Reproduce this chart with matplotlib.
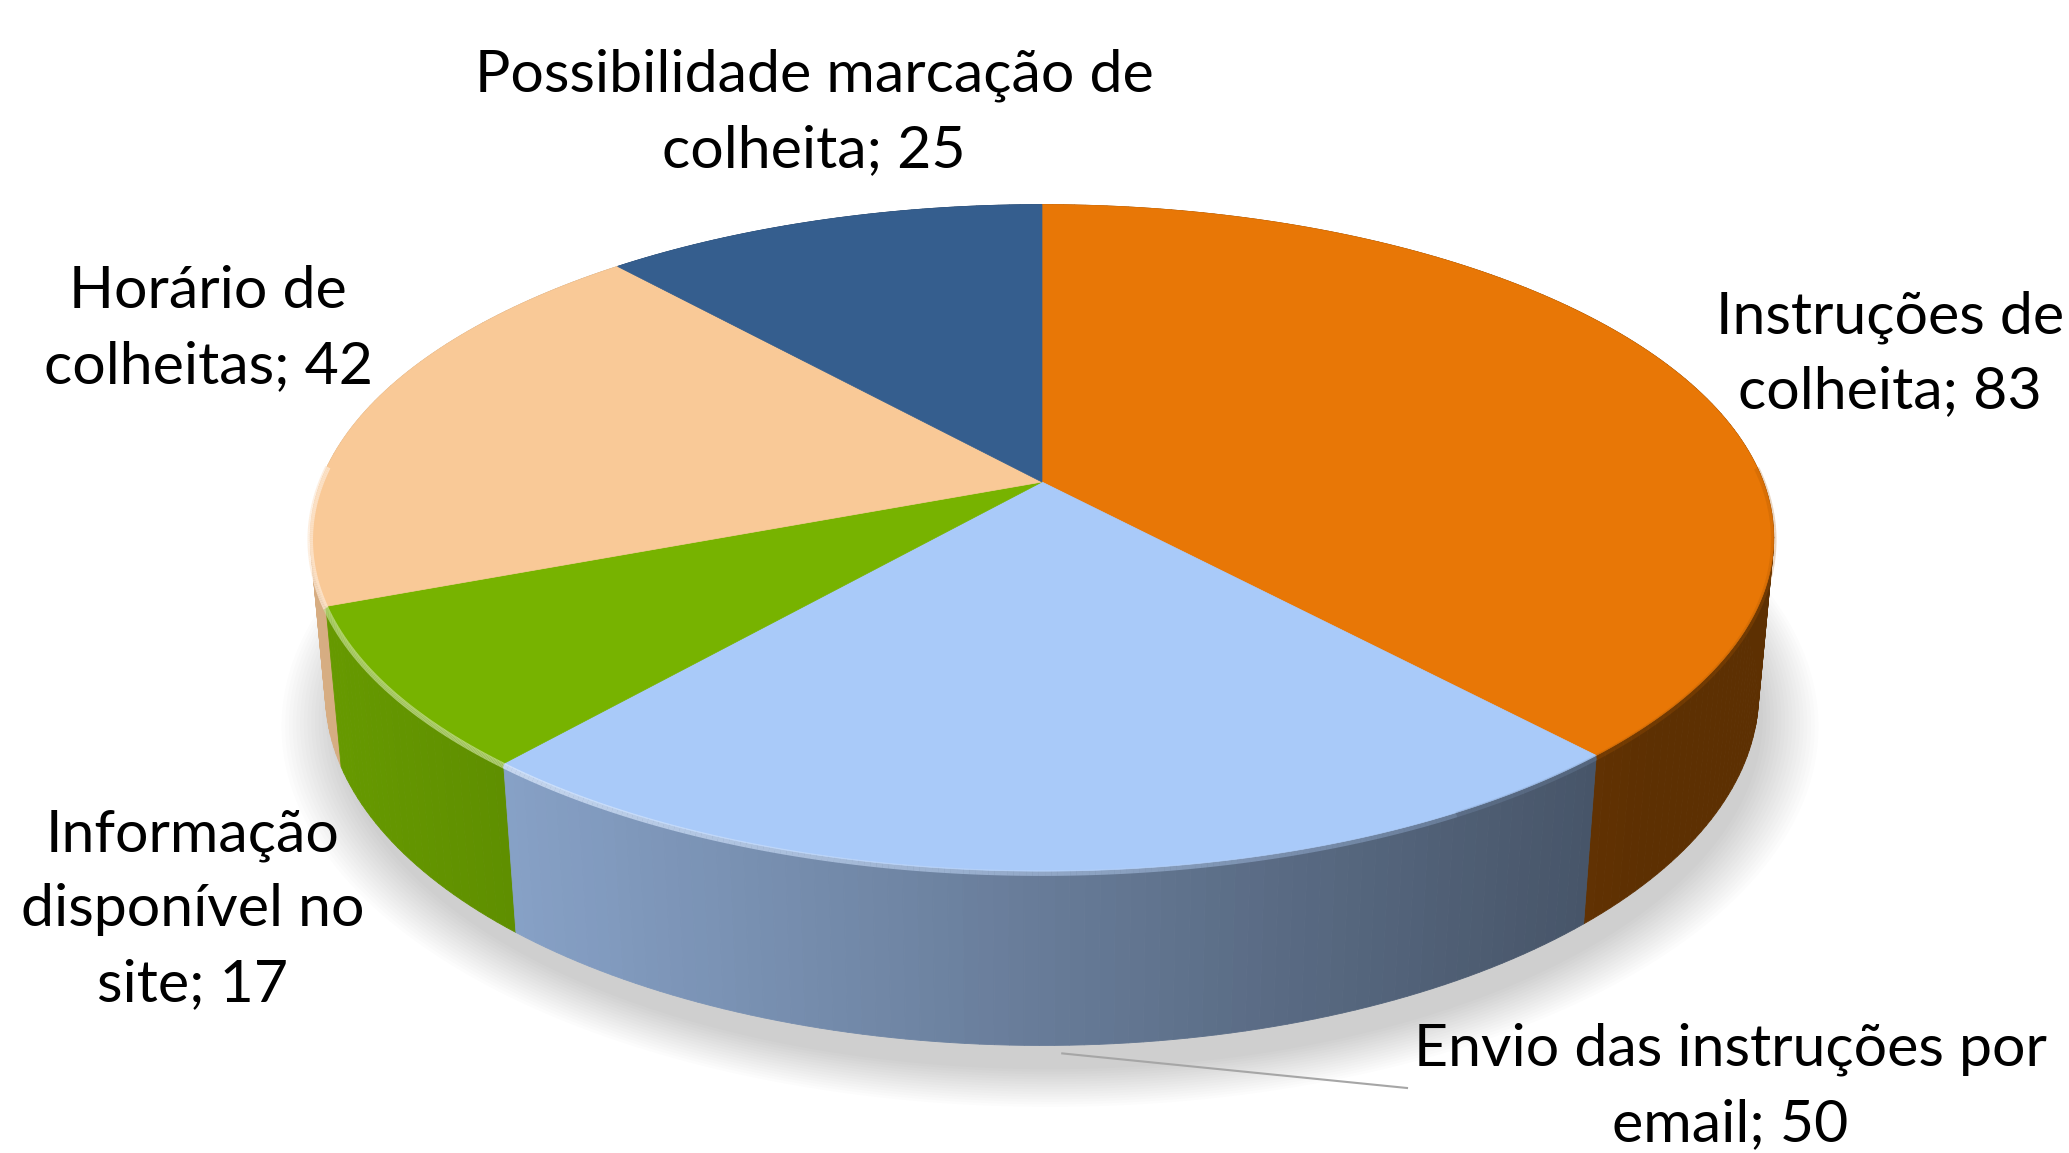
import numpy as np
import matplotlib.pyplot as plt
from matplotlib.patches import Polygon
from matplotlib.collections import LineCollection
from matplotlib.colors import to_rgb

# data
labels = ["Instruções de\ncolheita", "Envio das instruções por\nemail",
          "Informação\ndisponível no\nsite", "Horário de\ncolheitas",
          "Possibilidade marcação de\ncolheita"]
values = [83, 50, 17, 42, 25]
colors = ["#E87706", "#A9CAF9", "#77B300", "#F9C997", "#355E8E"]
label_pos = [(1890, 354), (1730, 1087), (193, 910), (208, 329), (814, 113)]

W, H = 2069, 1153
cx, cy = 1042, 482
focal = 3845.0
dist = 5.33
tilt = np.arcsin(0.449)
thick = 0.243


def project(x, y, z):
    # simple perspective camera looking down at the pie
    c, s = np.cos(tilt), np.sin(tilt)
    qy = y + dist * c
    qz = z - dist * s
    depth = qy * c - qz * s
    up = qy * s + qz * c
    return cx + focal * x / depth, cy - focal * up / depth, depth


def shade(sx):
    left = cx - 721
    return np.clip(0.86 - (sx - left) * 0.000345, 0.40, 0.9)


fig = plt.figure(figsize=(W / 100, H / 100), dpi=100)
ax = fig.add_axes([0, 0, 1, 1])
ax.set_xlim(0, W)
ax.set_ylim(H, 0)
ax.axis("off")

# soft shadow under the pie
t = np.linspace(0, 2 * np.pi, 400)
for i in range(16):
    r = 0.99 + 0.005 * i
    sx, sy, _ = project(r * np.sin(t), r * np.cos(t) - 0.03, -thick)
    ax.add_patch(Polygon(np.column_stack([sx + 8, sy + 14]), closed=True,
                         facecolor="black", edgecolor="none", alpha=0.012, zorder=1))

total = sum(values)
bounds = np.concatenate([[0], np.cumsum(values)]) / total * 2 * np.pi

# side walls, drawn as thin strips back to front
strips = []
for k in range(len(values)):
    a, b = bounds[k], bounds[k + 1]
    n = max(int(np.degrees(b - a)), 2)
    th = np.linspace(a, b, n + 1)
    base = np.array(to_rgb(colors[k]))
    for i in range(n):
        tt = np.array([th[i], th[i + 1]])
        tx, ty, td = project(np.sin(tt), np.cos(tt), 0)
        bx, by, _ = project(np.sin(tt), np.cos(tt), -thick)
        pts = np.column_stack([np.r_[tx, bx[::-1]], np.r_[ty, by[::-1]]])
        col = base * shade(tx.mean())
        strips.append((td.mean(), pts, col))
strips.sort(key=lambda s: -s[0])
for _, pts, col in strips:
    ax.add_patch(Polygon(pts, closed=True, facecolor=col, edgecolor=col,
                         linewidth=0.6, zorder=2))

# top faces
segs, seg_cols = [], []
for k in range(len(values)):
    th = np.linspace(bounds[k], bounds[k + 1], 200)
    tx, ty, _ = project(np.sin(th), np.cos(th), 0)
    ox, oy, _ = project(0, 0, 0)
    pts = np.column_stack([np.r_[ox, tx], np.r_[oy, ty]])
    ax.add_patch(Polygon(pts, closed=True, facecolor=colors[k], edgecolor=colors[k],
                         linewidth=0.5, zorder=3))
    # bevel along the visible front rim, fading from lit (left) to dark (right)
    base = np.array(to_rgb(colors[k]))
    for i in range(len(th) - 1):
        if np.cos(th[i]) > 0.05:
            continue
        f = shade(tx[i])
        w = np.clip((f - 0.45) / 0.35, 0, 1)
        c = base + (1 - base) * 0.6 * w if w > 0.05 else base * 0.75
        segs.append([(tx[i], ty[i] + 2), (tx[i + 1], ty[i + 1] + 2)])
        seg_cols.append((*c, 0.25 + 0.5 * w))
ax.add_collection(LineCollection(segs, colors=seg_cols, linewidths=4, zorder=4))

# labels
for k in range(len(values)):
    x, y = label_pos[k]
    ax.text(x, y, f"{labels[k]}; {values[k]}", ha="center", va="center",
            fontsize=42.5, family="Lato", linespacing=1.5, color="black", zorder=6)

# leader line for the email slice
mid = (bounds[1] + bounds[2]) / 2
lx, ly, _ = project(np.sin(mid), np.cos(mid), -thick)
ax.plot([lx + 8, 1407], [ly + 8, 1088], color="#a6a6a6", linewidth=1.5, zorder=5)

fig.savefig("out.png", dpi=100)
